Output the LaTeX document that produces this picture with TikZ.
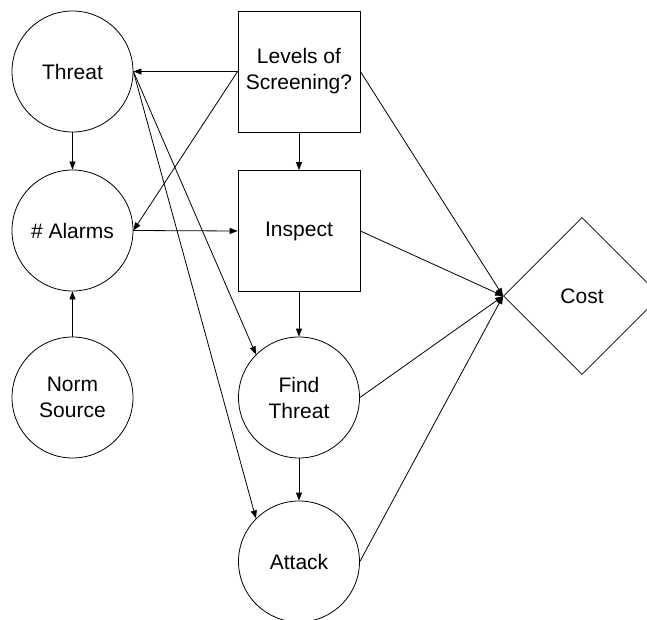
\documentclass[tikz,border=0pt]{standalone}
\usepackage{fontspec}
\setmainfont{Liberation Sans}
\usetikzlibrary{arrows.meta,shapes.geometric}

\tikzset{
  chance/.style={draw, circle, minimum size=121pt, inner sep=0pt, line width=0.8pt,
                 align=center, font=\fontsize{21}{26}\selectfont},
  decision/.style={draw, rectangle, minimum width=122pt, minimum height=121pt, inner sep=0pt,
                   line width=0.8pt, align=center, font=\fontsize{21}{26}\selectfont},
  value/.style={draw, diamond, minimum size=157pt, inner sep=0pt, line width=0.8pt,
                font=\fontsize{21}{26}\selectfont},
  link/.style={line width=0.8pt, -{Triangle[length=8pt,width=6pt]}}
}

\begin{document}
\begin{tikzpicture}[x=1pt, y=-1pt]
  \useasboundingbox (0,0) rectangle (647,620);
  \clip (0,0) rectangle (647,620);

  % nodes
  \node[chance]   (threat) at (72.5,71.5)  {Threat};
  \node[chance]   (alarms) at (72.5,230.5) {\# Alarms};
  \node[chance]   (norm)   at (72.5,397.5) {Norm\\Source};
  \node[decision] (levels) at (299,71.5)   {Levels of\\Screening?};
  \node[decision] (inspect) at (299,231)   {Inspect};
  \node[chance]   (find)   at (299,397.5)  {Find\\Threat};
  \node[chance]   (attack) at (299,561.5)  {Attack};
  \node[value]    (cost)   at (582,296)    {Cost};

  % influences
  \draw[link] (levels.west) -- (threat.east);
  \draw[link] (levels.west) -- (alarms.east);
  \draw[link] (threat) -- (alarms);
  \draw[link] (norm) -- (alarms);
  \draw[link] (alarms.east) -- (inspect.west);
  \draw[link] (levels) -- (inspect);
  \draw[link] (threat.east) -- (find.north west);
  \draw[link] (threat.east) -- (attack.north west);
  \draw[link] (inspect) -- (find);
  \draw[link] (find) -- (attack);
  \draw[link] (levels.east) -- (cost.west);
  \draw[link] (inspect.east) -- (cost.west);
  \draw[link] (find.east) -- (cost.west);
  \draw[link] (attack.east) -- (cost.west);
\end{tikzpicture}
\end{document}
